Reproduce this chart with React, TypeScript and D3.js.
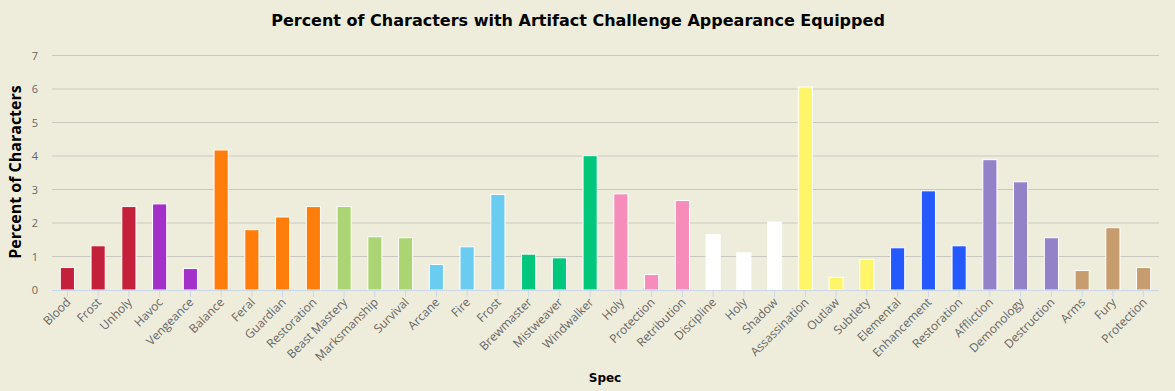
import React from "react";
import * as d3 from "d3";

const specs = ["Blood","Frost","Unholy","Havoc","Vengeance","Balance","Feral","Guardian","Restoration","Beast Mastery","Marksmanship","Survival","Arcane","Fire","Frost","Brewmaster","Mistweaver","Windwalker","Holy","Protection","Retribution","Discipline","Holy","Shadow","Assassination","Outlaw","Subtlety","Elemental","Enhancement","Restoration","Affliction","Demonology","Destruction","Arms","Fury","Protection"];
const values = [0.67,1.32,2.49,2.57,0.64,4.18,1.80,2.18,2.49,2.49,1.59,1.56,0.76,1.29,2.85,1.07,0.96,4.01,2.87,0.46,2.67,1.65,1.11,2.03,6.06,0.38,0.91,1.26,2.96,1.32,3.89,3.23,1.56,0.58,1.86,0.67];
const classes = ["dk","dk","dk","dh","dh","druid","druid","druid","druid","hunter","hunter","hunter","mage","mage","mage","monk","monk","monk","paladin","paladin","paladin","priest","priest","priest","rogue","rogue","rogue","shaman","shaman","shaman","warlock","warlock","warlock","warrior","warrior","warrior"];
const classColors: Record<string,string> = {
  dk: "#C41F3B", dh: "#A330C9", druid: "#FF7D0A", hunter: "#ABD473", mage: "#69CCF0",
  monk: "#00C77B", paladin: "#F58CBA", priest: "#FFFFFF", rogue: "#FFF569",
  shaman: "#2459FF", warlock: "#9482C9", warrior: "#C79C6E",
};
const yTicks = [0,1,2,3,4,5,6,7];

export default function App() {
  const W = 1175, H = 391;
  const left = 52, right = 1159, top = 55.5, bottom = 290;
  const x = d3.scaleBand<number>().domain(d3.range(specs.length)).range([left, right]).paddingInner(0.54).paddingOuter(0.27);
  const y = d3.scaleLinear().domain([0, 7]).range([bottom, top]);
  const font = "'Open Sans', 'Noto Sans', sans-serif";
  const tickX = (i: number) => left + (right - left) / specs.length * (i + 0.5);
  return (
    <div style={{ position: "absolute", left: 0, top: 0 }}>
      <svg width={W} height={H} style={{ display: "block", background: "#EEEDDC" }}>
        <rect width={W} height={H} fill="#EEEDDC" />
        <text x={578} y={26} textAnchor="middle" fontFamily="'DejaVu Sans', sans-serif" fontWeight="bold" fontSize={16} fill="#000">Percent of Characters with Artifact Challenge Appearance Equipped</text>
        {yTicks.map(t => (
          <g key={t}>
            {t > 0 && <line x1={left} x2={right} y1={y(t)} y2={y(t)} stroke="#C8C8C0" strokeWidth={1} />}
            <text x={38} y={y(t) + 4} textAnchor="end" fontFamily={font} fontSize={11} fill="#666">{t}</text>
          </g>
        ))}
        {specs.map((s, i) => (
          <line key={"tk" + i} x1={tickX(i)} x2={tickX(i)} y1={bottom} y2={bottom + 7} stroke="#CCD6EB" />
        ))}
        {values.map((v, i) => (
          <rect key={"b" + i} x={x(i)!} y={y(v)} width={x.bandwidth()} height={bottom - y(v)}
            fill={classColors[classes[i]]} stroke="#FFFFFF" strokeWidth={1} />
        ))}
        <line x1={left} x2={right} y1={bottom + 0.5} y2={bottom + 0.5} stroke="#CCD6EB" />
        {specs.map((s, i) => (
          <text key={"l" + i} transform={`translate(${tickX(i) + 4},${bottom + 13}) rotate(-45)`} textAnchor="end"
            fontFamily={font} fontSize={12} fill="#666">{s}</text>
        ))}
        <text x={605} y={382} textAnchor="middle" fontFamily="'DejaVu Sans', sans-serif" fontWeight="bold" fontSize={12} fill="#000">Spec</text>
        <text transform={`translate(21,${172}) rotate(-90)`} textAnchor="middle" fontFamily="'Open Sans', sans-serif" fontWeight="bold" fontSize={16} fill="#000">Percent of Characters</text>
      </svg>
    </div>
  );
}
